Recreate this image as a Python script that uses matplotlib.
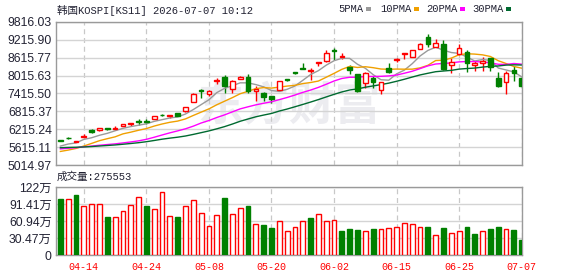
import matplotlib
matplotlib.use('Agg')
import matplotlib.pyplot as plt
import numpy as np
import pandas as pd
from matplotlib.patches import Rectangle

# ---------------- data ----------------
tick_idx = [3, 11, 19, 27, 35, 43, 51, 59]
tick_labels = ['04-14', '04-24', '05-08', '05-20', '06-02', '06-15', '06-25', '07-07']

open_ = [5840, 5915, 5790, 5970, 6177, 6188, 6240, 6225, 6320, 6400,
         6485, 6490, 6573, 6690, 6650, 6760, 6816, 7124, 7530, 7390,
         7835, 7972, 7565, 7917, 7961, 7488, 7432, 7322, 7520, 7878,
         8120, 8258, 8170, 8423, 8511, 8886, 8640, 8291, 8060, 7763,
         7928, 7543, 8280, 8540, 8730, 8643, 8919, 9304, 8963, 9084,
         8368, 8731, 8809, 8379, 8445, 8610, 7950, 7785, 8203, 7928]
high = [5870, 5945, 5830, 6050, 6210, 6250, 6265, 6310, 6400, 6415,
        6560, 6575, 6672, 6740, 6700, 6770, 6965, 7430, 7555, 7531,
        7950, 8027, 7873, 8005, 8071, 7653, 7454, 7344, 7840, 7905,
        8140, 8456, 8280, 8480, 8886, 8952, 8787, 8368, 8071, 8148,
        7994, 7818, 8445, 8620, 8742, 8864, 9095, 9414, 9238, 9216,
        8610, 9062, 8875, 8522, 8654, 8610, 8148, 8170, 8335, 7950]
low = [5815, 5895, 5785, 5965, 6100, 6155, 6190, 6210, 6315, 6330,
       6365, 6385, 6550, 6650, 6605, 6645, 6800, 7115, 7265, 7345,
       7740, 7443, 7443, 7895, 7422, 7180, 7180, 7102, 7487, 7820,
       8080, 8240, 7873, 8335, 8478, 8533, 8566, 8071, 7465, 7598,
       7598, 7410, 8104, 8478, 8577, 8640, 8910, 8974, 8963, 8214,
       8104, 8709, 8148, 8170, 8170, 8170, 7631, 7400, 7840, 7598]
close = [5830, 5905, 5810, 5985, 6122, 6243, 6230, 6240, 6397, 6410,
         6475, 6468, 6650, 6680, 6695, 6650, 6959, 7399, 7505, 7515,
         7845, 7675, 7851, 7983, 7510, 7554, 7300, 7234, 7829, 7865,
         8110, 8245, 8213, 8478, 8787, 8853, 8655, 8203, 7487, 8115,
         7785, 7796, 8126, 8555, 8742, 8864, 9084, 9062, 9095, 8236,
         8478, 8941, 8445, 8435, 8490, 8313, 7675, 8115, 8100, 7675]
# closes before the visible window (estimated from the moving-average lines)
prior_close = [5600, 5640, 5680, 5710, 5690, 5720, 5700, 5690, 5660, 5660,
               5480, 5420, 5380, 5620, 5700, 5760, 5790, 5760, 5750, 5740,
               5450, 5250, 5180, 5240, 5330,
               5560, 5620, 5400, 5840]
# volume in 万
volume = [100.7, 100.1, 107.8, 87.7, 91.3, 91.3, 68.9, 68.3, 78.9, 89.5,
          103.7, 88.3, 82.4, 112.5, 70.1, 68.9, 87.7, 98.3, 75.4, 52.4,
          71.8, 102.5, 73.6, 84.2, 88.3, 55.9, 53.0, 47.7, 61.2, 43.6,
          50.6, 61.2, 67.1, 73.6, 61.2, 63.0, 42.4, 45.9, 44.2, 43.6,
          45.9, 47.1, 48.9, 50.6, 57.7, 55.9, 50.6, 50.6, 36.5, 47.7,
          40.0, 43.6, 50.6, 37.1, 43.6, 45.9, 49.5, 45.9, 44.2, 27.5553]

price_ticks = [5014.97, 5615.11, 6215.24, 6815.37, 7415.50, 8015.63, 8615.77, 9215.90, 9816.03]
vol_ticks = [0, 30.47, 60.94, 91.41, 121.88]
vol_tick_labels = ['0', '30.47万', '60.94万', '91.41万', '122万']

ma_periods = [5, 10, 20, 30]
ma_names = ['5PMA', '10PMA', '20PMA', '30PMA']
ma_colors = ['#9a9a9a', '#f0a000', '#ff00ff', '#006a30']

title_text = '韩国KOSPI[KS11] 2026-07-07 10:12'
vol_title = '成交量:275553'

# ---------------- drawing ----------------
RED = '#ff0000'
GREEN = '#008000'
GRID = '#d4d4d4'
BORDER = '#9a9a9a'
LABEL = '#222233'

plt.rcParams['font.family'] = ['Liberation Sans', 'Noto Sans CJK SC', 'DejaVu Sans']
mono = ['Liberation Mono', 'Noto Sans CJK SC', 'DejaVu Sans']

W, H = 578, 276
fig = plt.figure(figsize=(W / 100, H / 100), dpi=100)
fig.patch.set_facecolor('white')

ax = fig.add_axes([56 / W, 1 - 165 / H, 466 / W, 143 / H])
axv = fig.add_axes([56 / W, 1 - 255 / H, 466 / W, 68 / H])

n = len(close)
x = np.arange(n)
o = np.array(open_, float)
c = np.array(close, float)
hi = np.array(high, float)
lo = np.array(low, float)
up = c >= o

ymin, ymax = price_ticks[0], price_ticks[-1]
px = (ymax - ymin) / 143.0
body_bottom = np.minimum(o, c)
body_h = np.maximum(np.abs(c - o), px * 0.9)

for a in (ax, axv):
    a.set_xlim(-0.56, n - 0.96)
    for s in a.spines.values():
        s.set_color(BORDER)
        s.set_linewidth(1.0)
    a.set_xticks(tick_idx)
    a.xaxis.grid(True, color='#c8c8c8', linestyle=(0, (4, 3)), linewidth=0.9)
    a.yaxis.grid(True, color=GRID, linestyle='-', linewidth=1.0)
    a.set_axisbelow(True)
    a.tick_params(length=0)

# watermark
ax.text(0.50, 0.40, '东方财富', transform=ax.transAxes, ha='center', va='center',
        fontsize=33, fontweight='bold', color='#ececf0', family=['Noto Sans CJK SC'],
        zorder=0.5)

# wicks
ax.vlines(x[up], lo[up], hi[up], color=RED, linewidth=1.0, zorder=2)
ax.vlines(x[~up], lo[~up], hi[~up], color=GREEN, linewidth=1.0, zorder=2)
# bodies
ax.bar(x[up], body_h[up], bottom=body_bottom[up], width=0.6,
       facecolor='white', edgecolor=RED, linewidth=1.0, zorder=3)
ax.bar(x[~up], body_h[~up], bottom=body_bottom[~up], width=0.6,
       facecolor=GREEN, edgecolor=GREEN, linewidth=1.0, zorder=3)

# moving averages
full_close = pd.Series(list(prior_close) + list(close), dtype=float)
for p, col in zip(ma_periods, ma_colors):
    ma = full_close.rolling(p).mean().to_numpy()[-n:]
    ax.plot(x, ma, color=col, linewidth=1.0, zorder=2.5)

ax.set_ylim(ymin, ymax)
ax.set_yticks(price_ticks)
ax.set_yticklabels([f'{t:.2f}' for t in price_ticks])
ax.tick_params(axis='y', labelsize=8.8, labelcolor=LABEL, pad=3)
ax.tick_params(axis='x', labelbottom=False)

# volume bars, coloured by close vs previous close
prev_close = np.concatenate([[prior_close[-1]], c[:-1]])
vup = c >= prev_close
v = np.array(volume, float)
axv.bar(x[vup], v[vup], width=0.62, facecolor='white', edgecolor=RED,
        linewidth=1.0, zorder=3)
axv.bar(x[~vup], v[~vup], width=0.62, facecolor=GREEN, edgecolor=GREEN,
        linewidth=1.0, zorder=3)
axv.set_ylim(0, vol_ticks[-1])
axv.set_yticks(vol_ticks)
axv.set_yticklabels(vol_tick_labels)
axv.tick_params(axis='y', labelsize=8.8, labelcolor=LABEL, pad=3)
axv.set_xticklabels(tick_labels, family=mono, fontsize=7.2, color=RED)
axv.tick_params(axis='x', pad=5)

# titles
fig.text(57 / W, 1 - 10 / H, title_text, ha='left', va='center',
         family=mono, fontsize=7.6, color=LABEL)
fig.text(57 / W, 1 - 177 / H, vol_title, ha='left', va='center',
         family=mono, fontsize=7.6, color=LABEL)

# legend
leg_x = [338, 380, 426, 472]
sq_x = [366, 414, 460, 506]
for name, col, lx, sx in zip(ma_names, ma_colors, leg_x, sq_x):
    fig.text(lx / W, 1 - 9 / H, name, ha='left', va='center',
             family=mono, fontsize=7.6, color=LABEL)
    fig.patches.append(Rectangle((sx / W, 1 - 10.5 / H), 5 / W, 3.5 / H,
                                 transform=fig.transFigure, facecolor=col,
                                 edgecolor='none'))

fig.savefig('out.png', dpi=100, facecolor='white')
